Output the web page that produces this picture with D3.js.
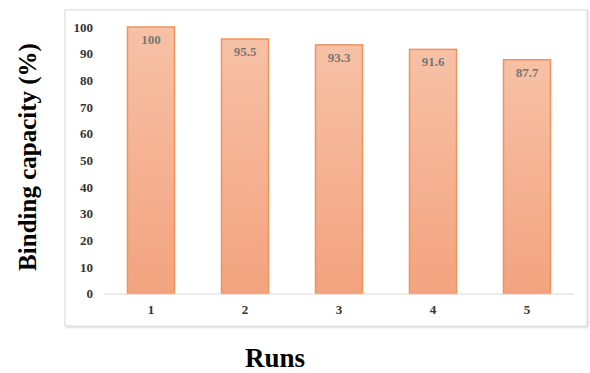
<!DOCTYPE html>
<html><head><meta charset="utf-8">
<script src="https://cdn.jsdelivr.net/npm/d3@7"></script>
<style>body{margin:0;background:#fff}</style>
</head><body>
<svg id="c" width="590" height="373"></svg>
<script>
const runs = ["1","2","3","4","5"];
const capacity = [100, 95.5, 93.3, 91.6, 87.7];
const labels = ["100","95.5","93.3","91.6","87.7"];
const yTicks = [0,10,20,30,40,50,60,70,80,90,100];

const serif = "'Liberation Serif', 'Times New Roman', serif";
const svg = d3.select("#c");
const defs = svg.append("defs");
const g1 = defs.append("linearGradient").attr("id","bg").attr("x1",0).attr("y1",0).attr("x2",0).attr("y2",1);
g1.append("stop").attr("offset","0%").attr("stop-color","#f7c1a6");
g1.append("stop").attr("offset","100%").attr("stop-color","#f3a37f");
const f = defs.append("filter").attr("id","sh").attr("x","-5%").attr("y","-5%").attr("width","110%").attr("height","110%");
f.append("feDropShadow").attr("dx",1).attr("dy",1).attr("stdDeviation",1.2).attr("flood-color","#000").attr("flood-opacity",0.18);

// outer frame
svg.append("rect").attr("x",65).attr("y",10).attr("width",522).attr("height",316)
  .attr("fill","#fff").attr("stroke","#d9d9d9").attr("stroke-width",1).attr("filter","url(#sh)");

const x = d3.scaleBand().domain(runs).range([104,574]).paddingInner(0.5).paddingOuter(0.25);
const y = d3.scaleLinear().domain([0,100]).range([293.5,27]);

// bars
svg.append("g").selectAll("rect").data(capacity).join("rect")
  .attr("x",(d,i)=>x(runs[i]))
  .attr("y",d=>y(d))
  .attr("width",x.bandwidth())
  .attr("height",d=>y(0)-y(d))
  .attr("fill","url(#bg)")
  .attr("stroke","#f0925c").attr("stroke-width",1.5);

// value labels
svg.append("g").selectAll("text").data(capacity).join("text")
  .attr("x",(d,i)=>x(runs[i])+x.bandwidth()/2)
  .attr("y",d=>y(d)+17)
  .attr("text-anchor","middle")
  .style("font-family",serif).style("font-weight","bold")
  .style("font-size","13px").attr("fill","#777")
  .text((d,i)=>labels[i]);

// y axis
const ya = svg.append("g").attr("transform","translate(93,0)")
  .call(d3.axisLeft(y).tickValues(yTicks).tickSize(0).tickPadding(0));
ya.select(".domain").remove();
ya.selectAll("text").style("font-family",serif).style("font-weight","bold")
  .style("font-size","13px").attr("fill","#333").attr("text-anchor","end").attr("x",0);

// x axis
const xa = svg.append("g").attr("transform",`translate(0,${y(0)})`)
  .call(d3.axisBottom(x).tickSize(0).tickPadding(11));
xa.select(".domain").attr("stroke","#d9d9d9").attr("d","M104,0.5H574");
xa.selectAll("text").style("font-family",serif).style("font-weight","bold")
  .style("font-size","13px").attr("fill","#333");

// titles
svg.append("text").attr("transform","translate(36,157) rotate(-90)")
  .attr("text-anchor","middle")
  .style("font-family",serif).style("font-weight","bold").style("font-size","25px").attr("fill","#000")
  .text("Binding capacity (%)");
svg.append("text").attr("x",275).attr("y",367)
  .attr("text-anchor","middle")
  .style("font-family",serif).style("font-weight","bold").style("font-size","27px").attr("fill","#000")
  .text("Runs");
</script>
</body></html>
